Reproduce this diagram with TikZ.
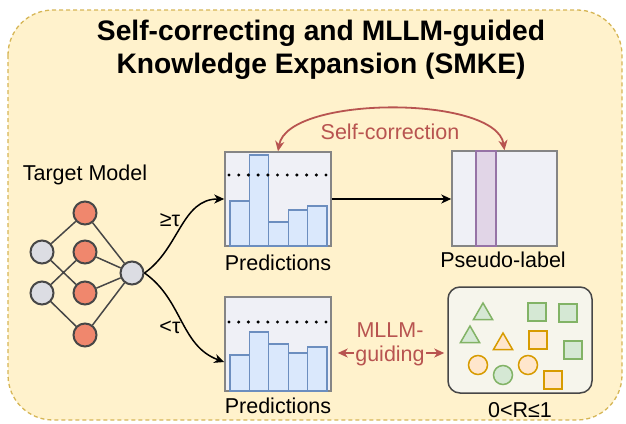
\documentclass[tikz,border=0pt]{standalone}
\usepackage{fontspec}
\setmainfont{Liberation Sans}
\usetikzlibrary{arrows.meta,shapes.geometric}
\definecolor{panelfill}{HTML}{FFF2CC}
\definecolor{paneldash}{HTML}{D6B656}
\definecolor{netgray}{HTML}{DCDDE3}
\definecolor{netorange}{HTML}{F0876D}
\definecolor{netline}{HTML}{474747}
\definecolor{boxfill}{HTML}{EFF0F6}
\definecolor{boxline}{HTML}{858585}
\definecolor{barfill}{HTML}{DAE8FC}
\definecolor{barline}{HTML}{6C8EBF}
\definecolor{stripfill}{HTML}{E1D5E7}
\definecolor{stripline}{HTML}{9673A6}
\definecolor{redline}{HTML}{B85450}
\definecolor{poolfill}{HTML}{F6F5EC}
\definecolor{greenfill}{HTML}{D5E8D4}
\definecolor{greenline}{HTML}{82B366}
\definecolor{orangefill}{HTML}{FFE6CC}
\definecolor{orangeline}{HTML}{D79B00}
\newcommand\txtsize{\fontsize{21.5}{24}\selectfont}

\tikzset{
  neuron/.style={circle,draw=netline,line width=2pt,minimum size=23pt,inner sep=0pt},
  ngray/.style={neuron,fill=netgray},
  norange/.style={neuron,fill=netorange},
  predbox/.style={draw=boxline,line width=1.5pt,fill=boxfill,minimum width=106pt,minimum height=94pt,inner sep=0pt},
  bar/.style={draw=barline,line width=1.3pt,fill=barfill},
  thresh/.style={line width=3.4pt,line cap=round,dash pattern=on 0pt off 9.7pt},
  caption/.style={font=\txtsize,inner sep=1pt},
  flow/.style={line width=1.5pt,-{Stealth[length=10pt,width=9pt,inset=3pt]}},
  redflow/.style={draw=redline,line width=1.8pt,{Stealth[length=10pt,width=9pt,inset=3pt]}-{Stealth[length=10pt,width=9pt,inset=3pt]}},
  gshape/.style={draw=greenline,fill=greenfill,line width=1.5pt,inner sep=0pt},
  oshape/.style={draw=orangeline,fill=orangefill,line width=1.5pt,inner sep=0pt},
  tri/.style={regular polygon,regular polygon sides=3,minimum size=22pt},
  sq/.style={rectangle,minimum size=18pt},
  dot/.style={circle,minimum size=19pt}
}

\begin{document}
\begin{tikzpicture}[x=1pt,y=-1pt]
  \useasboundingbox (0,0) rectangle (626,423);
  % panel
  \draw[fill=panelfill,draw=paneldash,line width=1.3pt,dash pattern=on 4pt off 3pt,rounded corners=45pt] (8,10) rectangle (622,420);
  \node[align=center,font=\bfseries\fontsize{28.2}{33}\selectfont] (title) at (321,50) {Self-correcting and MLLM-guided\\Knowledge Expansion (SMKE)};

  % target model
  \node[caption] (tmlab) at (85,175) {Target Model};
  \node[ngray] (i1) at (42,252) {};
  \node[ngray] (i2) at (42,293) {};
  \node[norange] (h1) at (85,213) {};
  \node[norange] (h2) at (85,252) {};
  \node[norange] (h3) at (85,293) {};
  \node[norange] (h4) at (85,335) {};
  \node[ngray] (o) at (132,273) {};
  \draw[netline,line width=1.5pt] (i1)--(h1) (i1)--(h3) (i2)--(h2) (i2)--(h4);
  \foreach \h in {h1,h2,h3,h4} \draw[netline,line width=1.5pt] (\h)--(o);

  % predictions, confident
  \node[predbox] (predA) at (278,199) {};
  \foreach \xa/\yt in {230/201,249.4/155,268.8/222,288.2/210,307.6/206}
    \draw[bar] (\xa,246) rectangle (\xa+19.4,\yt);
  \draw[thresh] (229,175) -- (330,175);
  \node[caption] (predAlab) at (278,263) {Predictions};

  % predictions, not confident
  \node[predbox] (predB) at (278,344) {};
  \foreach \xa/\yt in {230/355,249.4/332,268.8/344,288.2/353,307.6/347}
    \draw[bar] (\xa,391) rectangle (\xa+19.4,\yt);
  \draw[thresh] (229,322) -- (330,322);
  \node[caption] (predBlab) at (278,406) {Predictions};

  % pseudo label
  \node[predbox,minimum width=105pt,minimum height=95pt] (pseudo) at (504.5,198.5) {};
  \draw[draw=stripline,fill=stripfill,line width=1.5pt] (476,151) rectangle (496,246);
  \node[caption] (pseudolab) at (503,260) {Pseudo-label};

  % knowledge pool
  \node[draw=netline,fill=poolfill,line width=1.5pt,rounded corners=12pt,minimum width=144pt,minimum height=106pt] (pool) at (520,340) {};
  \node[gshape,tri] (t1) at (483,314) {};
  \node[gshape,tri] (t2) at (470,337) {};
  \node[oshape,tri] (t3) at (503,344) {};
  \node[gshape,sq] (s1) at (537,312) {};
  \node[gshape,sq] (s2) at (568,313) {};
  \node[oshape,sq] (s3) at (538,340) {};
  \node[gshape,sq] (s4) at (573,350) {};
  \node[oshape,sq] (s5) at (553,380) {};
  \node[oshape,dot] (c1) at (478,365) {};
  \node[gshape,dot] (c2) at (503,375) {};
  \node[oshape,dot] (c3) at (528,365) {};
  \node[caption] (poollab) at (520,410) {0<R≤1};

  % routing by threshold
  \draw[flow] (o.east) to[out=35,in=180] (predA.west);
  \draw[flow] (o.east) to[out=-35,in=160] ([yshift=-18pt]predB.west);
  \node[caption] (hi) at (170,220) {≥τ};
  \node[caption] (lo) at (170,327) {<τ};
  \draw[flow] (predA.east) -- (predA.east -| pseudo.west);

  % self-correction
  \draw[redflow] (predA.north) .. controls (288,95) and (496,95) .. (pseudo.north);
  \node[caption,text=redline] (selfcorr) at (390,132) {Self-correction};

  % MLLM guiding
  \coordinate (mg) at (390,353);
  \draw[redflow,shorten <=6pt,shorten >=3pt] (predB.east |- mg) -- (pool.west |- mg);
  \node[caption,text=redline,fill=panelfill,align=center] (guide) at (390,344) {MLLM-\\guiding};
\end{tikzpicture}
\end{document}
